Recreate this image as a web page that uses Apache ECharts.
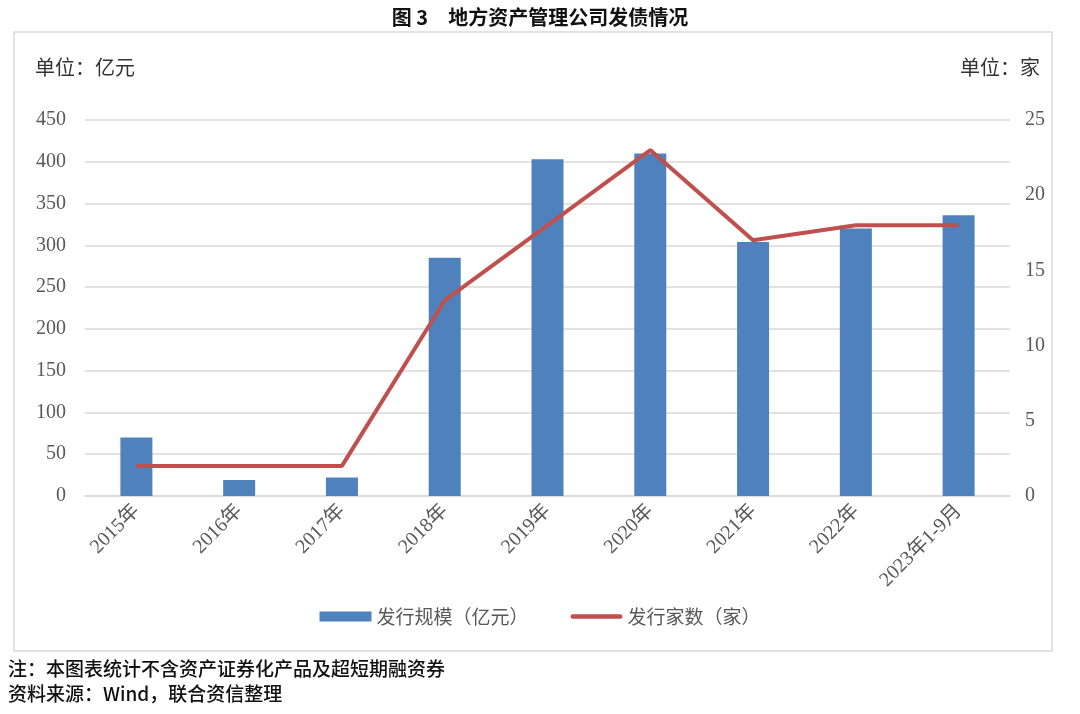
<!DOCTYPE html>
<html><head><meta charset="utf-8">
<script src="https://cdn.jsdelivr.net/npm/echarts@6/dist/echarts.min.js"></script>
<style>html,body{margin:0;padding:0;background:#fff}#c{width:1080px;height:714px}</style>
</head><body><div id="c"></div>
<script>
var categories = ['2015年','2016年','2017年','2018年','2019年','2020年','2021年','2022年','2023年1-9月'];
var issueAmount = [70, 19, 22, 285, 403, 410, 304, 320, 336];
var issuerCount = [2, 2, 2, 13, 18, 23, 17, 18, 18];
var leftTicks = [0, 50, 100, 150, 200, 250, 300, 350, 400, 450];
var rightTicks = [0, 5, 10, 15, 20, 25];

var serif = "'Liberation Serif','Noto Sans CJK SC',serif";
var cjk = "'Noto Sans CJK SC',sans-serif";
var chart = echarts.init(document.getElementById('c'));
chart.setOption({
  backgroundColor: '#fff',
  animation: false,
  title: {
    text: '图 3　地方资产管理公司发债情况',
    left: 'center', top: 2,
    textStyle: {fontFamily: cjk, fontSize: 20, fontWeight: 'bold', color: '#111'}
  },
  graphic: [
    {type: 'rect', shape: {x: 14, y: 32, width: 1038, height: 619},
     style: {fill: 'none', stroke: '#d9d9d9', lineWidth: 1.5}},
    {type: 'text', left: 35, top: 57, style: {text: '单位：亿元', font: '20px ' + cjk, fill: '#333'}},
    {type: 'text', right: 40, top: 57, style: {text: '单位：家', font: '20px ' + cjk, fill: '#333'}},
    {type: 'text', left: 8, top: 659, style: {text: '注：本图表统计不含资产证券化产品及超短期融资券', font: '500 19px ' + cjk, fill: '#111'}},
    {type: 'text', left: 8, top: 684, style: {text: '资料来源：Wind，联合资信整理', font: '500 19px ' + cjk, fill: '#111'}}
  ],
  legend: {
    bottom: 83, left: 'center', itemGap: 42, itemWidth: 52, itemHeight: 10,
    textStyle: {fontFamily: cjk, fontSize: 19, color: '#595959'},
    data: [
      {name: '发行规模（亿元）', icon: 'rect'},
      {name: '发行家数（家）', icon: 'path://M2.5,0 L52.5,0 A2.5,2.5 0 0 1 52.5,5 L2.5,5 A2.5,2.5 0 0 1 2.5,0 Z'}
    ]
  },
  grid: {left: 85, right: 70, top: 120, bottom: 218},
  xAxis: {
    type: 'category', data: categories,
    axisLine: {lineStyle: {color: '#d9d9d9', width: 1.5}},
    axisTick: {show: false},
    axisLabel: {rotate: 45, fontFamily: serif, fontSize: 20, color: '#595959', margin: 12, interval: 0}
  },
  yAxis: [
    {type: 'value', min: leftTicks[0], max: leftTicks[leftTicks.length - 1], interval: 50,
     axisLine: {show: false}, axisTick: {show: false},
     axisLabel: {fontFamily: serif, fontSize: 20, color: '#595959', margin: 19},
     splitLine: {lineStyle: {color: '#d9d9d9', width: 1.5}}},
    {type: 'value', min: rightTicks[0], max: rightTicks[rightTicks.length - 1], interval: 5,
     axisLine: {show: false}, axisTick: {show: false},
     axisLabel: {fontFamily: serif, fontSize: 20, color: '#595959', margin: 15},
     splitLine: {show: false}}
  ],
  series: [
    {name: '发行规模（亿元）', type: 'bar', data: issueAmount, barWidth: 32,
     itemStyle: {color: '#4f81bd'}},
    {name: '发行家数（家）', type: 'line', yAxisIndex: 1, data: issuerCount,
     symbol: 'none', lineStyle: {color: '#c0504d', width: 4}, itemStyle: {color: '#c0504d'}}
  ]
});
</script></body></html>
